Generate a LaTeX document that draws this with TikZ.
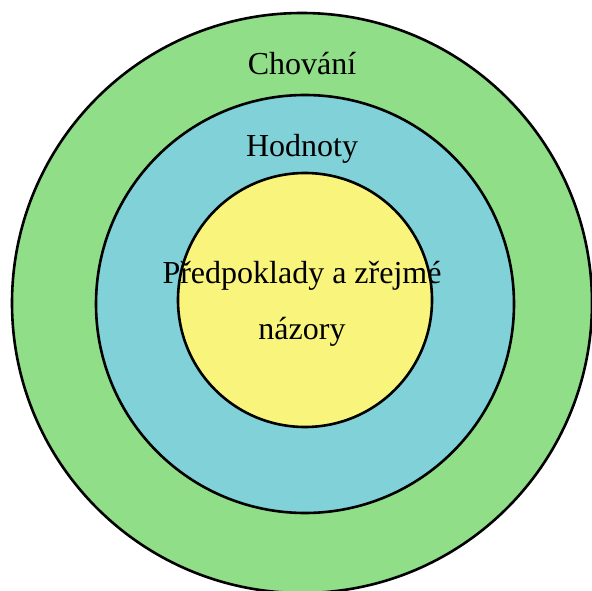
\documentclass[tikz,border=0pt]{standalone}
\usepackage{fontspec}
\setmainfont{Liberation Serif}
\definecolor{ringgreen}{RGB}{144,222,136}
\definecolor{ringblue}{RGB}{128,209,216}
\definecolor{ringyellow}{RGB}{248,244,124}
\tikzset{ring/.style={draw=black,line width=2.6pt},
  lbl/.style={font=\fontsize{32}{56}\selectfont,inner sep=0pt,anchor=base,align=center}}
\begin{document}
\begin{tikzpicture}[x=1pt,y=-1pt]
\useasboundingbox (0,0) rectangle (592,591);
\begin{scope}
\clip (0,0) rectangle (592,591);
\draw[ring,fill=ringgreen] (302,303) circle[radius=290];
\end{scope}
\draw[ring,fill=ringblue] (305,304) circle[radius=209];
\draw[ring,fill=ringyellow] (305,300) circle[radius=127];
\node[lbl] (outer) at (302,75) {Chování};
\node[lbl] (mid) at (302,157) {Hodnoty};
\node[lbl] (inner1) at (302,283) {Předpoklady a zřejmé};
\node[lbl] (inner2) at (302,339) {názory};
\end{tikzpicture}
\end{document}
